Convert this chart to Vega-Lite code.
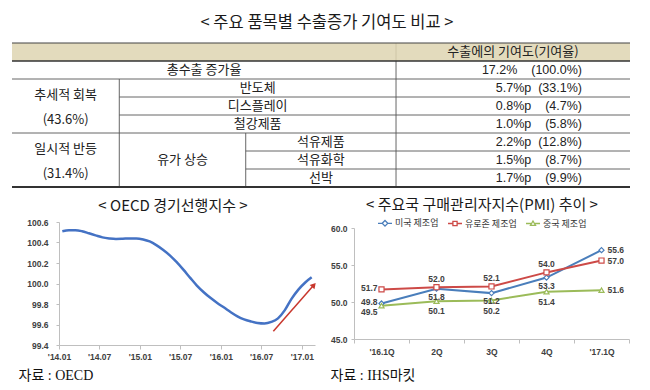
{
  "$schema": "https://vega.github.io/schema/vega-lite/v6.json",
  "background": "white",
  "padding": {"left": 11, "top": 14, "right": 5, "bottom": 5},
  "config": {
    "view": {"stroke": null},
    "font": "Noto Sans CJK KR",
    "axis": {"grid": false, "domainColor": "#bfbfbf", "tickColor": "#bfbfbf", "tickSize": 4, "labelFont": "Liberation Sans", "labelFontSize": 8.5, "labelFontWeight": "bold", "labelColor": "#404040", "labelPadding": 3, "labelFlush": false, "labelOverlap": false},
    "title": {"font": "Noto Sans CJK KR", "fontWeight": "normal", "color": "#1a1a1a", "baseline": "middle"}
  },
  "resolve": {"scale": {"color": "independent", "shape": "independent"}, "legend": {"color": "independent", "shape": "independent"}},
  "datasets": {
    "fills": [{"c0": 0, "c1": 100, "r0": 0, "r1": 1}],
    "lines": [
      {"c0": 0, "c1": 100, "r0": 0, "r1": 0, "kind": "top"},
      {"c0": 0, "c1": 100, "r0": 1, "r1": 1, "kind": "mid"},
      {"c0": 0, "c1": 100, "r0": 2, "r1": 2, "kind": "inner"},
      {"c0": 17.36, "c1": 100, "r0": 3, "r1": 3, "kind": "inner"},
      {"c0": 17.36, "c1": 100, "r0": 4, "r1": 4, "kind": "inner"},
      {"c0": 0, "c1": 100, "r0": 5, "r1": 5, "kind": "inner"},
      {"c0": 37.82, "c1": 100, "r0": 6, "r1": 6, "kind": "inner"},
      {"c0": 37.82, "c1": 100, "r0": 7, "r1": 7, "kind": "inner"},
      {"c0": 0, "c1": 100, "r0": 8, "r1": 8, "kind": "bottom"},
      {"c0": 17.36, "c1": 17.36, "r0": 2, "r1": 8, "kind": "inner"},
      {"c0": 37.82, "c1": 37.82, "r0": 5, "r1": 8, "kind": "inner"},
      {"c0": 62.14, "c1": 62.14, "r0": 0, "r1": 1, "kind": "light"},
      {"c0": 62.14, "c1": 62.14, "r0": 1, "r1": 8, "kind": "inner"}
    ],
    "cells": [
      {"c0": 62.14, "c1": 100, "r0": 0, "r1": 1, "text": "수출에의 기여도(기여율)"},
      {"c0": 0, "c1": 62.14, "r0": 1, "r1": 2, "text": "총수출 증가율"},
      {"c0": 17.36, "c1": 62.14, "r0": 2, "r1": 3, "text": "반도체"},
      {"c0": 17.36, "c1": 62.14, "r0": 3, "r1": 4, "text": "디스플레이"},
      {"c0": 17.36, "c1": 62.14, "r0": 4, "r1": 5, "text": "철강제품"},
      {"c0": 17.36, "c1": 37.82, "r0": 5, "r1": 8, "text": "유가 상승"},
      {"c0": 37.82, "c1": 62.14, "r0": 5, "r1": 6, "text": "석유제품"},
      {"c0": 37.82, "c1": 62.14, "r0": 6, "r1": 7, "text": "석유화학"},
      {"c0": 37.82, "c1": 62.14, "r0": 7, "r1": 8, "text": "선박"}
    ],
    "groups": [
      {"c0": 0, "c1": 17.36, "r0": 2, "r1": 5, "text": "추세적 회복\n(43.6%)"},
      {"c0": 0, "c1": 17.36, "r0": 5, "r1": 8, "text": "일시적 반등\n(31.4%)"}
    ],
    "values": [
      {"r0": 1, "r1": 2, "text": "17.2%\u00a0\u00a0\u00a0\u00a0(100.0%)"},
      {"r0": 2, "r1": 3, "text": "5.7%p\u00a0\u00a0(33.1%)"},
      {"r0": 3, "r1": 4, "text": "0.8%p\u00a0\u00a0\u00a0\u00a0(4.7%)"},
      {"r0": 4, "r1": 5, "text": "1.0%p\u00a0\u00a0\u00a0\u00a0(5.8%)"},
      {"r0": 5, "r1": 6, "text": "2.2%p\u00a0\u00a0(12.8%)"},
      {"r0": 6, "r1": 7, "text": "1.5%p\u00a0\u00a0\u00a0\u00a0(8.7%)"},
      {"r0": 7, "r1": 8, "text": "1.7%p\u00a0\u00a0\u00a0\u00a0(9.9%)"}
    ],
    "cli": [
      {"month": "2014-01-16", "cli": 100.51},
      {"month": "2014-02-15", "cli": 100.52},
      {"month": "2014-03-16", "cli": 100.52},
      {"month": "2014-04-15", "cli": 100.51},
      {"month": "2014-05-16", "cli": 100.49},
      {"month": "2014-06-15", "cli": 100.47},
      {"month": "2014-07-16", "cli": 100.45},
      {"month": "2014-08-16", "cli": 100.44},
      {"month": "2014-09-15", "cli": 100.435},
      {"month": "2014-10-16", "cli": 100.437},
      {"month": "2014-11-15", "cli": 100.44},
      {"month": "2014-12-16", "cli": 100.44},
      {"month": "2015-01-16", "cli": 100.43},
      {"month": "2015-02-14", "cli": 100.41},
      {"month": "2015-03-16", "cli": 100.375},
      {"month": "2015-04-15", "cli": 100.33},
      {"month": "2015-05-16", "cli": 100.275},
      {"month": "2015-06-15", "cli": 100.21},
      {"month": "2015-07-16", "cli": 100.135},
      {"month": "2015-08-16", "cli": 100.055},
      {"month": "2015-09-15", "cli": 99.98},
      {"month": "2015-10-16", "cli": 99.915},
      {"month": "2015-11-15", "cli": 99.86},
      {"month": "2015-12-16", "cli": 99.81},
      {"month": "2016-01-16", "cli": 99.765},
      {"month": "2016-02-15", "cli": 99.72},
      {"month": "2016-03-16", "cli": 99.68},
      {"month": "2016-04-15", "cli": 99.65},
      {"month": "2016-05-16", "cli": 99.63},
      {"month": "2016-06-15", "cli": 99.615},
      {"month": "2016-07-16", "cli": 99.61},
      {"month": "2016-08-16", "cli": 99.625},
      {"month": "2016-09-15", "cli": 99.66},
      {"month": "2016-10-16", "cli": 99.74},
      {"month": "2016-11-15", "cli": 99.85},
      {"month": "2016-12-16", "cli": 99.94},
      {"month": "2017-01-16", "cli": 100.01},
      {"month": "2017-02-14", "cli": 100.06}
    ],
    "arrow": [{"start": "2016-08-25", "end": "2017-02-24", "v0": 99.535, "v1": 99.985}],
    "pmi": [
      {"q": "'16.1Q", "i": 0, "series": "미국 제조업", "v": 49.8, "label": "49.8"},
      {"q": "2Q", "i": 1, "series": "미국 제조업", "v": 51.8, "label": "51.8"},
      {"q": "3Q", "i": 2, "series": "미국 제조업", "v": 51.2, "label": "51.2"},
      {"q": "4Q", "i": 3, "series": "미국 제조업", "v": 53.3, "label": "53.3"},
      {"q": "'17.1Q", "i": 4, "series": "미국 제조업", "v": 57.0, "label": "55.6"},
      {"q": "'16.1Q", "i": 0, "series": "유로존 제조업", "v": 51.7, "label": "51.7"},
      {"q": "2Q", "i": 1, "series": "유로존 제조업", "v": 52.0, "label": "52.0"},
      {"q": "3Q", "i": 2, "series": "유로존 제조업", "v": 52.1, "label": "52.1"},
      {"q": "4Q", "i": 3, "series": "유로존 제조업", "v": 54.0, "label": "54.0"},
      {"q": "'17.1Q", "i": 4, "series": "유로존 제조업", "v": 55.6, "label": "57.0"},
      {"q": "'16.1Q", "i": 0, "series": "중국 제조업", "v": 49.5, "label": "49.5"},
      {"q": "2Q", "i": 1, "series": "중국 제조업", "v": 50.1, "label": "50.1"},
      {"q": "3Q", "i": 2, "series": "중국 제조업", "v": 50.2, "label": "50.2"},
      {"q": "4Q", "i": 3, "series": "중국 제조업", "v": 51.4, "label": "51.4"},
      {"q": "'17.1Q", "i": 4, "series": "중국 제조업", "v": 51.6, "label": "51.6"}
    ]
  },
  "spacing": 10,
  "vconcat": [
    {
      "width": 571,
      "height": 144,
      "title": {"text": "< 주요 품목별 수출증가 기여도 비교 >", "fontSize": 16.5, "offset": 11, "dx": -17.5},
      "layer": [
        {
          "data": {"name": "fills"},
          "mark": {"type": "rect", "color": "#e3dbbd"},
          "encoding": {
            "x": {"field": "c0", "type": "quantitative", "scale": {"domain": [0, 100], "range": [-47, 571], "nice": false, "zero": false}, "axis": null},
            "x2": {"field": "c1"},
            "y": {"field": "r0", "type": "quantitative", "scale": {"domain": [0, 8], "reverse": true, "nice": false, "zero": false}, "axis": null},
            "y2": {"field": "r1"}
          }
        },
        {
          "data": {"name": "lines"},
          "transform": [{"filter": "datum.kind === 'inner'"}],
          "mark": {"type": "rule", "color": "#555555", "strokeWidth": 0.9},
          "encoding": {"x": {"field": "c0", "type": "quantitative"}, "x2": {"field": "c1"}, "y": {"field": "r0", "type": "quantitative"}, "y2": {"field": "r1"}}
        },
        {
          "data": {"name": "lines"},
          "transform": [{"filter": "datum.kind === 'light'"}],
          "mark": {"type": "rule", "color": "#cfc6a6", "strokeWidth": 1},
          "encoding": {"x": {"field": "c0", "type": "quantitative"}, "x2": {"field": "c1"}, "y": {"field": "r0", "type": "quantitative"}, "y2": {"field": "r1"}}
        },
        {
          "data": {"name": "lines"},
          "transform": [{"filter": "datum.kind === 'top'"}],
          "mark": {"type": "rule", "color": "#444444", "strokeWidth": 1.1},
          "encoding": {"x": {"field": "c0", "type": "quantitative"}, "x2": {"field": "c1"}, "y": {"field": "r0", "type": "quantitative"}, "y2": {"field": "r1"}}
        },
        {
          "data": {"name": "lines"},
          "transform": [{"filter": "datum.kind === 'mid'"}],
          "mark": {"type": "rule", "color": "#333333", "strokeWidth": 1.3},
          "encoding": {"x": {"field": "c0", "type": "quantitative"}, "x2": {"field": "c1"}, "y": {"field": "r0", "type": "quantitative"}, "y2": {"field": "r1"}}
        },
        {
          "data": {"name": "lines"},
          "transform": [{"filter": "datum.kind === 'bottom'"}],
          "mark": {"type": "rule", "color": "#333333", "strokeWidth": 2},
          "encoding": {"x": {"field": "c0", "type": "quantitative"}, "x2": {"field": "c1"}, "y": {"field": "r0", "type": "quantitative"}, "y2": {"field": "r1"}}
        },
        {
          "data": {"name": "cells"},
          "transform": [
            {"calculate": "(datum.c0 + datum.c1) / 2", "as": "cx"},
            {"calculate": "(datum.r0 + datum.r1) / 2", "as": "cy"}
          ],
          "mark": {"type": "text", "font": "Noto Sans CJK KR", "fontSize": 13, "color": "#222222", "baseline": "middle"},
          "encoding": {"x": {"field": "cx", "type": "quantitative"}, "y": {"field": "cy", "type": "quantitative"}, "text": {"field": "text"}}
        },
        {
          "data": {"name": "groups"},
          "transform": [
            {"calculate": "(datum.c0 + datum.c1) / 2", "as": "cx"},
            {"calculate": "(datum.r0 + datum.r1) / 2", "as": "cy"}
          ],
          "mark": {"type": "text", "font": "Noto Sans CJK KR", "fontSize": 13, "color": "#222222", "baseline": "middle", "lineBreak": "\n", "lineHeight": 24.5, "dy": -11},
          "encoding": {"x": {"field": "cx", "type": "quantitative"}, "y": {"field": "cy", "type": "quantitative"}, "text": {"field": "text"}}
        },
        {
          "data": {"name": "values"},
          "transform": [{"calculate": "(datum.r0 + datum.r1) / 2", "as": "cy"}],
          "mark": {"type": "text", "font": "Liberation Sans", "fontSize": 12.5, "color": "#222222", "align": "right", "baseline": "middle"},
          "encoding": {"x": {"datum": 92.23, "type": "quantitative"}, "y": {"field": "cy", "type": "quantitative"}, "text": {"field": "text"}}
        }
      ]
    },
    {
      "spacing": 7,
      "resolve": {"scale": {"color": "independent", "shape": "independent"}, "legend": {"color": "independent", "shape": "independent"}},
      "hconcat": [
        {
          "width": 256,
          "height": 123,
          "title": {"text": "< OECD 경기선행지수 >", "fontSize": 15, "offset": 4, "dx": -14},
          "layer": [
            {
              "data": {"name": "cli"},
              "mark": {"type": "line", "color": "#4472c4", "strokeWidth": 2.5, "interpolate": "monotone"},
              "encoding": {
                "x": {
                  "field": "month", "type": "temporal",
                  "scale": {"domain": [{"year": 2014, "month": 1, "date": 1}, {"year": 2017, "month": 3, "date": 1}], "nice": false},
                  "axis": {
                    "values": [{"year": 2014, "month": 1, "date": 1}, {"year": 2014, "month": 7, "date": 1}, {"year": 2015, "month": 1, "date": 1}, {"year": 2015, "month": 7, "date": 1}, {"year": 2016, "month": 1, "date": 1}, {"year": 2016, "month": 7, "date": 1}, {"year": 2017, "month": 1, "date": 1}],
                    "tickCount": 7,
                    "format": "'%y.%m",
                    "labelAngle": 0, "labelOverlap": false,
                    "title": "자료 : OECD",
                    "titleX": -41, "titleY": 30, "titleAlign": "left", "titleBaseline": "middle",
                    "titleFont": "Liberation Serif, Noto Sans CJK KR", "titleFontSize": 14, "titleFontWeight": "normal", "titleColor": "#111111"
                  }
                },
                "y": {
                  "field": "cli", "type": "quantitative",
                  "scale": {"domain": [99.4, 100.6], "nice": false, "zero": false},
                  "axis": {
                    "values": [99.4, 99.6, 99.8, 100, 100.2, 100.4, 100.6],
                    "tickCount": 7,
                    "format": ".1f", "tickSize": 3, "labelPadding": 8, "labelOverlap": false,
                    "title": "\u00a0", "titleX": -47, "titleY": 60, "titleAngle": 0, "titleAlign": "left", "titleFontSize": 8
                  }
                }
              }
            },
            {
              "data": {"name": "arrow"},
              "mark": {"type": "rule", "color": "#c8372d", "strokeWidth": 1.5},
              "encoding": {"x": {"field": "start", "type": "temporal"}, "x2": {"field": "end"}, "y": {"field": "v0", "type": "quantitative"}, "y2": {"field": "v1"}}
            },
            {
              "data": {"name": "arrow"},
              "mark": {"type": "point", "shape": "triangle-up", "angle": 41, "filled": true, "color": "#c8372d", "size": 40, "opacity": 1},
              "encoding": {"x": {"field": "end", "type": "temporal"}, "y": {"field": "v1", "type": "quantitative"}}
            }
          ]
        },
        {
          "width": 275,
          "height": 117,
          "title": {"text": "< 주요국 구매관리자지수(PMI) 추이 >", "fontSize": 15, "offset": 2, "dx": -9.5},
          "data": {"name": "pmi"},
          "encoding": {
            "x": {
              "field": "q", "type": "ordinal", "sort": ["'16.1Q", "2Q", "3Q", "4Q", "'17.1Q"],
              "scale": {"type": "band", "paddingInner": 0, "paddingOuter": 0},
              "axis": {
                "labelAngle": 0, "tickBand": "extent", "labelPadding": 4,
                "title": "자료 : IHS마킷",
                "titleX": -24, "titleY": 36, "titleAlign": "left", "titleBaseline": "middle",
                "titleFont": "Liberation Serif, Noto Sans CJK KR", "titleFontSize": 14, "titleFontWeight": "normal", "titleColor": "#111111"
              }
            },
            "y": {
              "field": "v", "type": "quantitative",
              "scale": {"domain": [45, 60], "range": [117, 6], "nice": false, "zero": false},
              "axis": {
                "values": [45, 50, 55, 60], "tickCount": 4, "format": ".1f", "tickSize": 3, "labelPadding": 4,
                "title": "\u00a0", "titleX": -30, "titleY": 50, "titleAngle": 0, "titleAlign": "left", "titleFontSize": 8
              }
            }
          },
          "layer": [
            {
              "mark": {"type": "line", "strokeWidth": 2},
              "encoding": {
                "color": {"field": "series", "type": "nominal", "scale": {"domain": ["미국 제조업", "유로존 제조업", "중국 제조업"], "range": ["#4a7ebb", "#cd4a47", "#9bbb59"]}}
              }
            },
            {
              "mark": {"type": "point", "filled": false, "fill": "white", "opacity": 1, "size": 26, "strokeWidth": 1.2},
              "encoding": {
                "color": {"field": "series", "type": "nominal"},
                "shape": {"condition": [{"test": "datum.series === '미국 제조업'", "value": "diamond"}, {"test": "datum.series === '유로존 제조업'", "value": "square"}], "value": "triangle-up"}
              }
            },
            {
              "transform": [{"filter": "false"}],
              "mark": {"type": "point", "filled": false, "opacity": 1},
              "encoding": {
                "color": {
                  "field": "series", "type": "nominal",
                  "legend": {"orient": "none", "legendX": 23, "legendY": -7, "direction": "horizontal", "title": null, "labelFont": "Noto Sans CJK KR", "labelFontSize": 9, "labelColor": "#333333", "symbolSize": 196, "symbolStrokeWidth": 1.3, "symbolOpacity": 1, "columnPadding": 6, "labelOffset": 2}
                },
                "shape": {
                  "field": "series", "type": "nominal",
                  "scale": {"domain": ["미국 제조업", "유로존 제조업", "중국 제조업"], "range": ["M-1,0H-0.4M0.4,0H1M0,-0.4L0.4,0L0,0.4L-0.4,0Z", "M-1,0H-0.3M0.3,0H1M-0.3,-0.3H0.3V0.3H-0.3Z", "M-1,0H-0.3M0.3,0H1M0,-0.36L0.36,0.26H-0.36Z"]},
                  "legend": {"orient": "none", "legendX": 23, "legendY": -7, "direction": "horizontal", "title": null, "labelFont": "Noto Sans CJK KR", "labelFontSize": 9, "labelColor": "#333333", "symbolSize": 196, "symbolStrokeWidth": 1.3, "symbolOpacity": 1, "columnPadding": 6, "labelOffset": 2}
                }
              }
            },
            {
              "transform": [{"filter": "datum.i === 0 && datum.series !== '중국 제조업'"}],
              "mark": {"type": "text", "font": "Liberation Sans", "fontWeight": "bold", "fontSize": 8.5, "color": "#404040", "align": "right", "baseline": "middle", "dx": -4, "dy": -1},
              "encoding": {"text": {"field": "label"}}
            },
            {
              "transform": [{"filter": "datum.i === 0 && datum.series === '중국 제조업'"}],
              "mark": {"type": "text", "font": "Liberation Sans", "fontWeight": "bold", "fontSize": 8.5, "color": "#404040", "align": "right", "baseline": "middle", "dx": -4, "dy": 6},
              "encoding": {"text": {"field": "label"}}
            },
            {
              "transform": [{"filter": "datum.i > 0 && datum.i < 4 && datum.series === '유로존 제조업'"}],
              "mark": {"type": "text", "font": "Liberation Sans", "fontWeight": "bold", "fontSize": 8.5, "color": "#404040", "baseline": "middle", "dy": -8},
              "encoding": {"text": {"field": "label"}}
            },
            {
              "transform": [{"filter": "datum.i > 0 && datum.i < 4 && datum.series === '미국 제조업'"}],
              "mark": {"type": "text", "font": "Liberation Sans", "fontWeight": "bold", "fontSize": 8.5, "color": "#404040", "baseline": "middle", "dy": 8},
              "encoding": {"text": {"field": "label"}}
            },
            {
              "transform": [{"filter": "datum.i > 0 && datum.i < 4 && datum.series === '중국 제조업'"}],
              "mark": {"type": "text", "font": "Liberation Sans", "fontWeight": "bold", "fontSize": 8.5, "color": "#404040", "baseline": "middle", "dy": 10},
              "encoding": {"text": {"field": "label"}}
            },
            {
              "transform": [{"filter": "datum.i === 4"}],
              "mark": {"type": "text", "font": "Liberation Sans", "fontWeight": "bold", "fontSize": 8.5, "color": "#404040", "align": "left", "baseline": "middle", "dx": 6},
              "encoding": {"text": {"field": "label"}}
            }
          ]
        }
      ]
    }
  ]
}
